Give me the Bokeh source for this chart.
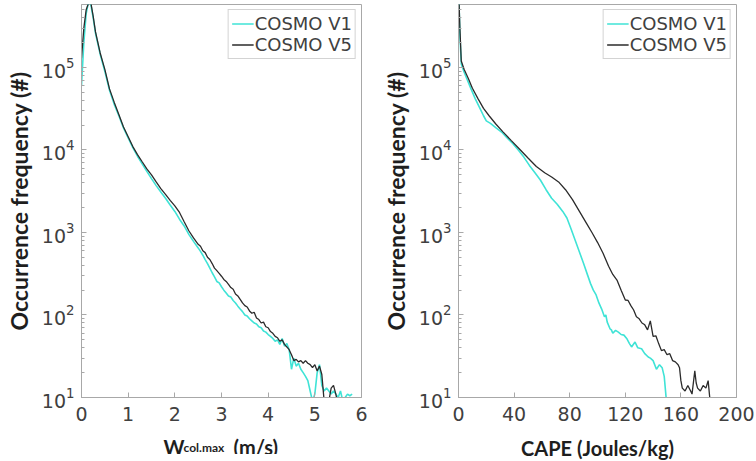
from bokeh.plotting import figure
from bokeh.layouts import row, column
from bokeh.models import Range1d, Legend, LegendItem, FixedTicker
from bokeh.core.properties import value
from bokeh.embed import file_html
from bokeh.resources import INLINE

# ---------------- data: left panel (W col.max) ----------------
w_x_v1 = [0, 0.05, 0.1, 0.15, 0.2, 0.25, 0.3, 0.4, 0.5, 0.6, 0.7, 0.8, 0.9, 1.0, 1.1, 1.2, 1.3, 1.4,
          1.5, 1.6, 1.7, 1.8, 1.9, 2.0, 2.1, 2.2, 2.3, 2.4,
          2.5, 2.55, 2.6, 2.65, 2.7, 2.75, 2.8, 2.85, 2.9, 2.95, 3.0, 3.05, 3.1, 3.15, 3.2, 3.25,
          3.3, 3.35, 3.4, 3.45, 3.5, 3.55, 3.6, 3.65, 3.7, 3.75, 3.8, 3.85, 3.9, 3.95, 4.0, 4.05,
          4.1, 4.15, 4.2, 4.25, 4.3, 4.35, 4.4, 4.45, 4.5, 4.55, 4.6, 4.65, 4.7, 4.75, 4.8, 4.85,
          4.9, 4.95, 5.0, 5.05, 5.1, 5.15, 5.2, 5.25, 5.3, 5.35, 5.4, 5.45, 5.5, 5.55, 5.6, 5.65,
          5.7, 5.75, 5.8]
w_y_v1 = [6.0e4, 2.0e5, 4.5e5, 6.2e5, 5.8e5, 4.0e5, 2.6e5, 1.45e5, 9.0e4, 5.3e4, 3.6e4, 2.6e4, 1.85e4,
          1.4e4, 1.07e4, 8.4e3, 6.8e3, 5.5e3, 4.5e3, 3.7e3, 3.1e3, 2.6e3, 2.15e3, 1.8e3, 1.45e3,
          1.2e3, 950, 780,
          650, 590, 530, 470, 420, 370, 325, 290, 255, 245, 220, 200, 185, 170, 165, 150,
          140, 128, 118, 110, 100, 97, 90, 85, 80, 78, 72, 70, 64, 62, 58, 55,
          52, 48, 50, 44, 52, 42, 45, 38, 22, 30, 24, 26, 22, 20, 18, 16,
          12, 9, 11, 20, 25, 14, 12, 13, 12, 11, 12, 11, 10, 12, 9, 10,
          11, 10.5, 11]
w_x_v5 = [0, 0.05, 0.1, 0.15, 0.2, 0.25, 0.3, 0.4, 0.5, 0.6, 0.7, 0.8, 0.9, 1.0, 1.1, 1.2, 1.3, 1.4,
          1.5, 1.6, 1.7, 1.8, 1.9, 2.0, 2.1, 2.2, 2.3, 2.4,
          2.5, 2.55, 2.6, 2.65, 2.7, 2.75, 2.8, 2.85, 2.9, 2.95, 3.0, 3.05, 3.1, 3.15, 3.2, 3.25,
          3.3, 3.35, 3.4, 3.45, 3.5, 3.55, 3.6, 3.65, 3.7, 3.75, 3.8, 3.85, 3.9, 3.95, 4.0, 4.05,
          4.1, 4.15, 4.2, 4.25, 4.3, 4.35, 4.4, 4.45, 4.5, 4.55, 4.6, 4.65, 4.7, 4.75, 4.8, 4.85,
          4.9, 4.95, 5.0, 5.05, 5.1, 5.15, 5.2, 5.25, 5.3, 5.35, 5.4, 5.45, 5.5]
w_y_v5 = [1.3e5, 3.0e5, 5.0e5, 6.0e5, 6.1e5, 4.2e5, 2.7e5, 1.5e5, 9.5e4, 5.5e4, 3.8e4, 2.7e4, 1.9e4,
          1.45e4, 1.1e4, 8.8e3, 7.2e3, 5.9e3, 5.0e3, 4.1e3, 3.4e3, 2.9e3, 2.45e3, 2.1e3, 1.75e3,
          1.35e3, 1.05e3, 860,
          720, 680, 600, 570, 500, 470, 420, 370, 345, 320, 295, 270, 255, 235, 215, 205,
          180, 170, 155, 140, 130, 125, 112, 105, 108, 92, 88, 80, 82, 72, 70, 63,
          60, 55, 53, 48, 50, 44, 41, 38, 33, 28, 29, 27, 28, 26, 28, 26,
          25, 23, 25, 21, 24, 19, 9, 8, 9, 13, 14, 11, 8]

# ---------------- data: right panel (CAPE) ----------------
c_x_v1 = [0, 1, 2, 4, 6, 9, 12, 15, 18, 20, 23, 27, 31, 35, 39, 43, 47, 51, 55, 59, 63, 67, 71, 75,
          78, 81, 84, 87, 90, 93, 95, 97, 99, 101, 103, 105, 106, 107, 109, 110, 111, 113, 115,
          117, 119, 121, 123, 124.5, 127, 129, 131.7, 134, 136.5, 138, 140, 142.4, 144.6, 146.5,
          148, 149.6]
c_y_v1 = [1.0e6, 2.5e5, 1.1e5, 8.8e4, 7.3e4, 5.5e4, 4.2e4, 3.3e4, 2.6e4, 2.25e4, 2.1e4, 1.85e4,
          1.65e4, 1.4e4, 1.2e4, 1.0e4, 8.2e3, 6.5e3, 5.3e3, 4.3e3, 3.3e3, 2.6e3, 2.2e3, 1.8e3,
          1.5e3, 1.1e3, 800, 580, 420, 300, 240, 200, 175, 140, 118, 95, 100, 82, 68, 66, 60, 65,
          62, 58, 57, 52, 45, 41, 47, 40, 39, 34, 31, 30, 28, 22, 25, 23, 18, 9]
c_x_v5 = [0, 1, 2, 4, 7, 10, 14, 18, 22, 27, 32, 38, 44, 50, 56, 62, 67, 72, 77, 82, 87, 92, 96,
          100, 104, 108, 111, 114, 117, 120, 122, 124, 126, 128, 130, 132, 134, 136, 138, 140,
          142, 144, 146, 148, 150, 152, 154, 156, 158, 159, 160, 161, 163, 165, 167, 168, 170,
          171, 172, 174, 176, 178, 179.6, 181]
c_y_v5 = [1.0e6, 3.0e5, 1.2e5, 9.5e4, 7.4e4, 5.6e4, 4.2e4, 3.2e4, 2.6e4, 2.05e4, 1.66e4, 1.3e4,
          1.02e4, 8.0e3, 6.3e3, 5.3e3, 4.7e3, 4.1e3, 3.3e3, 2.5e3, 1.8e3, 1.3e3, 1.0e3, 760, 560,
          390, 310, 265, 200, 152, 150, 130, 115, 95, 90, 80, 76, 66, 85, 55, 56, 45, 37, 38, 33,
          34, 28, 27, 25, 23, 16, 13, 12, 14, 12, 11, 21, 15, 13, 12, 14, 13, 16, 9]

w_ticks = [0, 1, 2, 3, 4, 5, 6]
cape_ticks = [0, 40, 80, 120, 160, 200]
y_ticks = [10, 100, 1000, 10000, 100000]
w_label_parts = ["W", "col.max", "(m/s)"]
cape_label = "CAPE (Joules/kg)"
y_label = "Occurrence frequency (#)"
series_names = ["COSMO V1", "COSMO V5"]

CYAN = "#3fe3d6"
DARK = "#2b2b2b"
GRID = "#a8a8a8"
TXT = "#404040"
LAB = "#1e1e1e"
Y_MIN, Y_MAX = 10, 5.8e5
P1_BOTTOM = 31
LAB_H = 26


def make_fig(x_end, xticks, border_left, border_right, fw, bottom):
    p = figure(title=None, width=border_left + fw + border_right, height=4 + 393 + bottom,
               frame_width=fw, frame_height=393,
               x_range=Range1d(0, x_end), y_range=Range1d(Y_MIN, Y_MAX),
               y_axis_type="log", output_backend="svg", toolbar_location=None,
               min_border_left=border_left, min_border_right=border_right,
               min_border_top=4, min_border_bottom=bottom)
    p.grid.visible = False
    p.outline_line_color = GRID
    p.outline_line_width = 1
    p.background_fill_color = "white"
    p.border_fill_color = "white"
    for ax in (p.xaxis[0], p.yaxis[0]):
        ax.axis_line_color = GRID
        ax.major_tick_line_color = GRID
        ax.minor_tick_line_color = GRID
        ax.major_tick_in = 5
        ax.major_tick_out = 0
        ax.minor_tick_in = 3
        ax.minor_tick_out = 0
        ax.major_label_text_font = "DejaVu Sans"
        ax.major_label_text_font_size = "19px"
        ax.major_label_text_color = TXT
        ax.axis_label_text_font = "Lato"
        ax.axis_label_text_font_style = "bold"
        ax.axis_label_text_font_size = "20px"
        ax.axis_label_text_color = LAB
    p.xaxis[0].ticker = FixedTicker(ticks=xticks)
    p.xaxis[0].major_label_standoff = 9
    p.yaxis[0].ticker = FixedTicker(ticks=y_ticks,
                                    minor_ticks=[m * 10 ** e for e in range(1, 6) for m in range(2, 10)])
    p.yaxis[0].major_label_standoff = 7
    p.yaxis[0].axis_label = y_label
    p.yaxis[0].axis_label_text_font_size = "23px"
    p.yaxis[0].axis_label_standoff = 6
    return p


def add_legend(p, r1, r5):
    leg = Legend(items=[LegendItem(label=series_names[0], renderers=[r1]),
                        LegendItem(label=series_names[1], renderers=[r5])],
                 location="top_right")
    leg.margin = 5
    leg.padding = 3
    leg.spacing = 0
    leg.glyph_width = 22
    leg.glyph_height = 21
    leg.label_height = 21
    leg.label_standoff = 1
    leg.label_text_font = "DejaVu Sans"
    leg.label_text_font_size = "18px"
    leg.label_text_color = TXT
    leg.border_line_color = GRID
    leg.background_fill_color = "white"
    p.add_layout(leg)


# left panel (its x label is drawn in a strip figure below it, same frame geometry)
p1 = make_fig(6, w_ticks, 81, 17, 280, P1_BOTTOM)
p1.xaxis[0].axis_label = None
p1.xaxis[0].axis_label_standoff = 0
a1 = p1.line(w_x_v1, w_y_v1, line_color=CYAN, line_width=1.6)
a5 = p1.line(w_x_v5, w_y_v5, line_color=DARK, line_width=1.3)
add_legend(p1, a1, a5)

# strip: x range in canvas pixels of the frame (81..361); y measured downward from strip top
lab = figure(title=None, width=378, height=LAB_H, frame_width=280, frame_height=LAB_H,
             x_range=Range1d(81, 361), y_range=Range1d(LAB_H, 0),
             output_backend="svg", toolbar_location=None, x_axis_location=None,
             y_axis_location=None, min_border_left=81, min_border_right=17,
             min_border_top=0, min_border_bottom=0)
lab.grid.visible = False
lab.outline_line_color = None
lab.background_fill_color = "white"
lab.border_fill_color = "white"
lab.text(x=[163], y=[18], text=[w_label_parts[0]], text_font=value("Lato"), text_font_style="bold",
         text_font_size="20px", text_color=LAB, text_baseline="alphabetic")
lab.text(x=[183], y=[19], text=[w_label_parts[1]], text_font=value("Lato"), text_font_style="bold",
         text_font_size="12px", text_color=LAB, text_baseline="alphabetic")
lab.text(x=[233], y=[18], text=[w_label_parts[2]], text_font=value("Lato"), text_font_style="bold",
         text_font_size="20px", text_color=LAB, text_baseline="alphabetic")

# right panel
p2 = make_fig(200, cape_ticks, 79, 21, 278, 64)
b1 = p2.line(c_x_v1, c_y_v1, line_color=CYAN, line_width=1.6)
b5 = p2.line(c_x_v5, c_y_v5, line_color=DARK, line_width=1.3)
add_legend(p2, b1, b5)
p2.xaxis[0].axis_label = cape_label
p2.xaxis[0].axis_label_standoff = 12

layout = row(column(p1, lab, spacing=0), p2, spacing=0)
open("out.html", "w").write(file_html(layout, INLINE))
